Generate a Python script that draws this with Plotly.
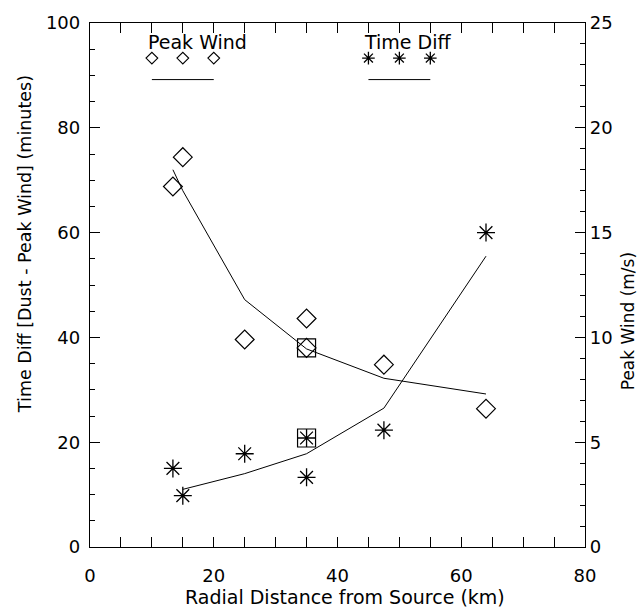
import plotly.graph_objects as go

# ---- data ----
distance_km = [13.4, 15.0, 25.0, 35.0, 35.0, 47.5, 64.0]
peak_wind = [17.2, 18.6, 9.9, 10.9, 9.5, 8.7, 6.6]        # m/s (right axis)
time_diff = [15.0, 9.8, 17.8, 13.3, 20.8, 22.3, 60.0]      # minutes (left axis)
boxed_index = [4]

wind_fit_km = [13.4, 15.0, 25.0, 35.0, 47.5, 64.0]
wind_fit = [18.0, 17.0, 11.8, 9.45, 8.05, 7.3]
td_fit_km = [15.0, 25.0, 35.0, 47.5, 64.0]
td_fit = [11.0, 14.0, 17.8, 26.5, 55.5]

legend_wind_km = [10, 15, 20]
legend_td_km = [45, 50, 55]
legend_sym_y = 93.3
legend_line_y = 89.2
legend_text_y = 96.4

x_ticks = [0, 20, 40, 60, 80]
y_ticks = [0, 20, 40, 60, 80, 100]
y2_ticks = [0, 5, 10, 15, 20, 25]

FONT = "DejaVu Sans ExtraLight, DejaVu Sans, sans-serif"
fs = 19
tfs = 18

fig = go.Figure()

# fits
fig.add_trace(go.Scatter(x=wind_fit_km, y=wind_fit, mode="lines", yaxis="y2",
                         line=dict(color="black", width=1), showlegend=False))
fig.add_trace(go.Scatter(x=td_fit_km, y=td_fit, mode="lines",
                         line=dict(color="black", width=1), showlegend=False))
# points
fig.add_trace(go.Scatter(x=distance_km, y=peak_wind, mode="markers", yaxis="y2",
                         marker=dict(symbol="diamond-open", size=14.5, color="black",
                                     line=dict(width=1.2, color="black")),
                         showlegend=False))
fig.add_trace(go.Scatter(x=distance_km, y=time_diff, mode="markers",
                         marker=dict(symbol="asterisk-open", size=15, color="black",
                                     line=dict(width=1.3, color="black")),
                         showlegend=False))
# boxes
fig.add_trace(go.Scatter(x=[distance_km[i] for i in boxed_index],
                         y=[peak_wind[i] for i in boxed_index], mode="markers", yaxis="y2",
                         marker=dict(symbol="square-open", size=18, color="black",
                                     line=dict(width=1.2, color="black")),
                         showlegend=False))
fig.add_trace(go.Scatter(x=[distance_km[i] for i in boxed_index],
                         y=[time_diff[i] for i in boxed_index], mode="markers",
                         marker=dict(symbol="square-open", size=18, color="black",
                                     line=dict(width=1.2, color="black")),
                         showlegend=False))

# in-plot legend
fig.add_trace(go.Scatter(x=legend_wind_km, y=[legend_sym_y] * 3, mode="markers",
                         marker=dict(symbol="diamond-open", size=9, color="black",
                                     line=dict(width=1.1, color="black")),
                         showlegend=False))
fig.add_trace(go.Scatter(x=[legend_wind_km[0], legend_wind_km[-1]], y=[legend_line_y] * 2,
                         mode="lines", line=dict(color="black", width=1), showlegend=False))
fig.add_trace(go.Scatter(x=legend_td_km, y=[legend_sym_y] * 3, mode="markers",
                         marker=dict(symbol="asterisk-open", size=10.5, color="black",
                                     line=dict(width=1.3, color="black")),
                         showlegend=False))
fig.add_trace(go.Scatter(x=[legend_td_km[0], legend_td_km[-1]], y=[legend_line_y] * 2,
                         mode="lines", line=dict(color="black", width=1), showlegend=False))

txt = dict(size=fs, family=FONT, color="black")
fig.add_annotation(x=9, y=legend_text_y, text="Peak Wind", showarrow=False,
                   xanchor="left", yanchor="middle", font=txt)
fig.add_annotation(x=44, y=legend_text_y, text="Time Diff", showarrow=False,
                   xanchor="left", yanchor="middle", font=txt)

# axis titles
fig.add_annotation(xref="paper", yref="paper", x=0.515, y=-0.095,
                   text="Radial Distance from Source (km)", showarrow=False,
                   xanchor="center", yanchor="middle",
                   font=dict(size=19, family=FONT, color="black"))
fig.add_annotation(xref="paper", yref="paper", x=-0.1313, y=0.578,
                   text="Time Diff [Dust - Peak Wind] (minutes)", showarrow=False,
                   textangle=-90, xanchor="center", yanchor="middle",
                   font=dict(size=17.5, family=FONT, color="black"))
fig.add_annotation(xref="paper", yref="paper", x=1.086, y=0.43,
                   text="Peak Wind (m/s)", showarrow=False,
                   textangle=-90, xanchor="center", yanchor="middle",
                   font=dict(size=17, family=FONT, color="black"))

axis_common = dict(showgrid=False, zeroline=False, showline=True, linecolor="black",
                   linewidth=1.3, ticks="inside", tickcolor="black", ticklen=10, tickwidth=1.3,
                   tickfont=dict(size=tfs, family=FONT, color="black"))

fig.update_layout(
    width=642, height=610,
    margin=dict(l=90, r=57, t=23, b=63),
    paper_bgcolor="white", plot_bgcolor="white",
    xaxis=dict(range=[0, 80], tickvals=x_ticks, mirror="allticks", ticklabelstandoff=12,
               minor=dict(dtick=5, ticks="inside", ticklen=5, tickcolor="black", tickwidth=1.3),
               **axis_common),
    yaxis=dict(range=[0, 100], tickvals=y_ticks, ticklabelstandoff=5,
               minor=dict(dtick=5, ticks="inside", ticklen=5, tickcolor="black", tickwidth=1.3),
               **axis_common),
    yaxis2=dict(range=[0, 25], tickvals=y2_ticks, overlaying="y", side="right",
                minor=dict(dtick=1, ticks="inside", ticklen=5, tickcolor="black", tickwidth=1.3),
                **axis_common),
)

fig.write_html("out.html", config={"displayModeBar": False},
               post_script="document.body.style.margin='0';document.body.style.overflow='hidden';")
